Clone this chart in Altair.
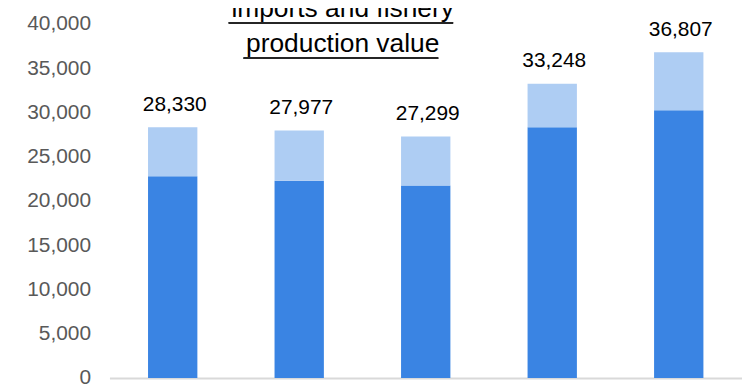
import altair as alt
import pandas as pd

# ---- data ----
years = ["2015", "2016", "2017", "2018", "2019"]
production = [22800, 22300, 21750, 28330, 30240]   # dark blue (bottom)
imports = [5530, 5677, 5549, 4918, 6567]            # light blue (top)
totals = [28330, 27977, 27299, 33248, 36807]        # labels above bars

series_names = ["Fishery production value", "Imports"]
series_colors = ["#3a84e3", "#aecdf3"]

rows = []
for i, y in enumerate(years):
    rows.append({"year": y, "series": series_names[0], "value": production[i], "order": 0})
    rows.append({"year": y, "series": series_names[1], "value": imports[i], "order": 1})
df = pd.DataFrame(rows)
tot = pd.DataFrame({"year": years, "total": totals})

FONT = "Liberation Sans"

y_axis = alt.Axis(values=list(range(0, 40001, 5000)), format=",.0f",
                  labelFont=FONT, labelFontSize=21, labelColor="#595959",
                  ticks=False, domain=False, grid=False, labelPadding=19,
                  title=None)
y_scale = alt.Scale(domain=[0, 40000], nice=False)

x_enc = alt.X(
    "year:N",
    sort=years,
    scale=alt.Scale(paddingInner=0.61, paddingOuter=0.305),
    axis=alt.Axis(labels=False, ticks=False, title=None,
                  domainColor="#d9d9d9", domainWidth=2),
)

bars = alt.Chart(df).mark_bar().encode(
    x=x_enc,
    y=alt.Y("value:Q", stack="zero", scale=y_scale, axis=y_axis),
    color=alt.Color("series:N", scale=alt.Scale(domain=series_names, range=series_colors),
                    legend=None),
    order=alt.Order("order:Q", sort="ascending"),
)

labels = alt.Chart(tot).mark_text(
    font=FONT, fontSize=21, color="#000000", baseline="alphabetic", dx=2, dy=-16.5
).encode(
    x=alt.X("year:N", sort=years),
    y=alt.Y("total:Q", scale=y_scale, axis=y_axis),
    text=alt.Text("total:Q", format=",.0f"),
)

underline1 = alt.Chart(tot).mark_rule(color="#262626", strokeWidth=1.8).encode(
    x=alt.value(120), x2=alt.value(345.5), y=alt.value(-1)
)
underline2 = alt.Chart(tot).mark_rule(color="#262626", strokeWidth=1.8).encode(
    x=alt.value(135), x2=alt.value(330.5), y=alt.value(34.3)
)

chart = alt.layer(bars, labels, underline1, underline2).properties(
    width=636,
    height=356,
    padding={"left": 102, "top": 15, "right": 0, "bottom": 10},
    autosize=alt.AutoSizeParams(type="none"),
    title=alt.TitleParams(
        text=["imports and fishery", "production value"],
        font=FONT, fontSize=26.5, fontWeight="normal", color="#000000",
        anchor="middle", dx=-83.5, dy=49, lineHeight=35,
    ),
).configure_view(stroke=None)

chart.save("out.html", embed_options={"renderer": "svg", "actions": False})
